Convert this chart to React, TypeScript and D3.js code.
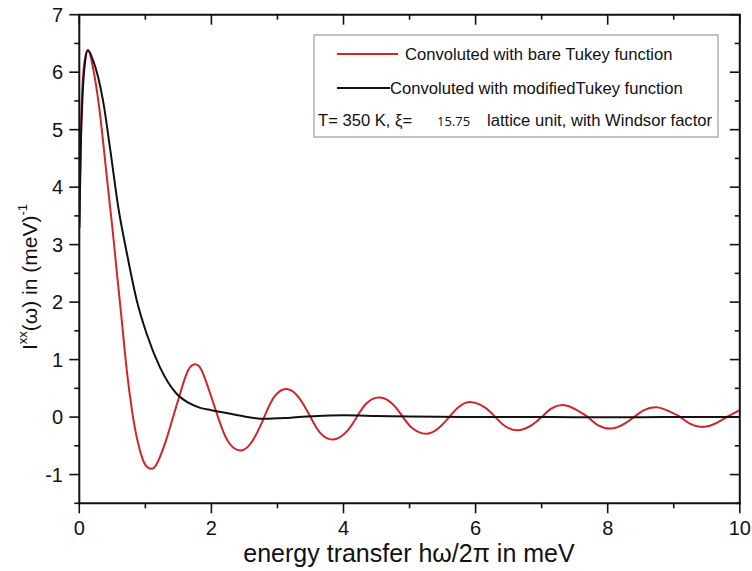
import React from "react";
import * as d3 from "d3";

// Energy transfer (meV) and intensity samples for the two convolutions
const bareX = [0, 0.03, 0.07, 0.13, 0.2, 0.3, 0.41, 0.5, 0.57, 0.65, 0.72, 0.8, 0.87, 0.95, 1.02, 1.09, 1.17, 1.3, 1.42, 1.55, 1.65, 1.75, 1.85, 1.97, 2.1, 2.25, 2.45, 2.63, 2.8, 2.95, 3.14, 3.33, 3.5, 3.65, 3.85, 4.05, 4.2, 4.35, 4.55, 4.75, 4.9, 5.05, 5.26, 5.45, 5.6, 5.75, 5.94, 6.15, 6.3, 6.45, 6.65, 6.85, 7.0, 7.15, 7.33, 7.52, 7.7, 7.85, 8.06, 8.25, 8.4, 8.55, 8.74, 8.93, 9.1, 9.25, 9.45, 9.65, 9.8, 10];
const bareY = [3.3, 5.2, 6.1, 6.38, 6.12, 5.4, 4.25, 3.3, 2.5, 1.6, 0.8, 0.1, -0.35, -0.7, -0.86, -0.9, -0.82, -0.45, 0.0, 0.5, 0.82, 0.92, 0.82, 0.45, 0.0, -0.42, -0.58, -0.4, 0.0, 0.35, 0.49, 0.33, 0.0, -0.28, -0.39, -0.25, 0.0, 0.24, 0.34, 0.22, 0.0, -0.2, -0.29, -0.18, 0.0, 0.18, 0.26, 0.16, 0.0, -0.16, -0.23, -0.14, 0.0, 0.15, 0.21, 0.13, 0.0, -0.14, -0.2, -0.12, 0.0, 0.12, 0.17, 0.1, 0.0, -0.12, -0.17, -0.1, 0.0, 0.12];

const modX = [0, 0.02, 0.05, 0.09, 0.13, 0.21, 0.36, 0.47, 0.59, 0.72, 0.87, 1.02, 1.22, 1.47, 1.65, 1.83, 2.0, 2.23, 2.5, 2.8, 3.2, 3.6, 4.0, 4.5, 5.0, 6.0, 7.0, 8.0, 9.0, 10.0];
const modY = [3.3, 4.6, 5.6, 6.2, 6.38, 6.2, 5.5, 4.64, 3.65, 2.85, 2.03, 1.45, 0.87, 0.41, 0.25, 0.16, 0.12, 0.07, 0.01, -0.03, -0.01, 0.02, 0.03, 0.02, 0.01, 0.0, 0.0, -0.005, 0.0, 0.0];

const xMajor = [0, 2, 4, 6, 8, 10];
const xMinor = [1, 3, 5, 7, 9];
const yMajor = [-1, 0, 1, 2, 3, 4, 5, 6, 7];
const yMinor = [-1.5, -0.5, 0.5, 1.5, 2.5, 3.5, 4.5, 5.5, 6.5];

const legendBare = "Convoluted with bare Tukey function";
const legendMod = "Convoluted with modifiedTukey function";

const RED = "#d0262b";
const FONT = "'Liberation Sans', Arial, sans-serif";

export default function App() {
  const W = 752;
  const H = 571;
  const left = 79.3;
  const right = 739.8;
  const top = 14.7;
  const bottom = 503.3;

  const x = d3.scaleLinear().domain([0, 10]).range([left, right]);
  const y = d3.scaleLinear().domain([-1.5, 7]).range([bottom, top]);

  const lineSmooth = d3
    .line<[number, number]>()
    .x((d) => x(d[0]))
    .y((d) => y(d[1]))
    .curve(d3.curveNatural);

  const lineMono = d3
    .line<[number, number]>()
    .x((d) => x(d[0]))
    .y((d) => y(d[1]))
    .curve(d3.curveMonotoneX);

  const bare = lineSmooth(bareX.map((v, i) => [v, bareY[i]] as [number, number])) || "";
  const mod = lineMono(modX.map((v, i) => [v, modY[i]] as [number, number])) || "";

  const ax = { stroke: "#111", strokeWidth: 2 };
  const tk = { stroke: "#111", strokeWidth: 1.6 };

  return (
    <svg
      width={W}
      height={H}
      style={{ position: "absolute", left: 0, top: 0, background: "#fff" }}
      fontFamily={FONT}
    >
      <rect x={0} y={0} width={W} height={H} fill="#fff" />
      <defs>
        <clipPath id="plot">
          <rect x={left} y={top} width={right - left} height={bottom - top} />
        </clipPath>
      </defs>

      {/* curves */}
      <g clipPath="url(#plot)" fill="none" strokeLinejoin="round" strokeLinecap="round">
        <path d={bare} stroke={RED} strokeWidth={2} />
        <path d={mod} stroke="#111" strokeWidth={2} />
      </g>

      {/* frame */}
      <line x1={left} x2={left} y1={top} y2={bottom + 1} {...ax} />
      <line x1={right} x2={right} y1={top} y2={bottom + 1} {...ax} />
      <line x1={left - 1} x2={right + 1} y1={bottom} y2={bottom} {...ax} />
      <line x1={left - 1} x2={right + 1} y1={top} y2={top} {...ax} />

      {/* x ticks */}
      {xMajor.map((v) => (
        <g key={"xM" + v}>
          <line x1={x(v)} x2={x(v)} y1={bottom} y2={bottom + 10} {...tk} />
          <line x1={x(v)} x2={x(v)} y1={top} y2={top + 10} {...tk} />
          <text x={x(v)} y={535} fontSize={20} textAnchor="middle" fill="#111">
            {v}
          </text>
        </g>
      ))}
      {xMinor.map((v) => (
        <g key={"xm" + v}>
          <line x1={x(v)} x2={x(v)} y1={bottom} y2={bottom + 5} {...tk} />
          <line x1={x(v)} x2={x(v)} y1={top} y2={top + 5} {...tk} />
        </g>
      ))}

      {/* y ticks */}
      {yMajor.map((v) => (
        <g key={"yM" + v}>
          <line x1={left - 10} x2={left} y1={y(v)} y2={y(v)} {...tk} />
          <line x1={right - 10} x2={right} y1={y(v)} y2={y(v)} {...tk} />
          <text x={63} y={y(v) + 7} fontSize={20} textAnchor="end" fill="#111">
            {v}
          </text>
        </g>
      ))}
      {yMinor.map((v) => (
        <g key={"ym" + v}>
          <line x1={left - 5} x2={left} y1={y(v)} y2={y(v)} {...tk} />
          <line x1={right - 5} x2={right} y1={y(v)} y2={y(v)} {...tk} />
        </g>
      ))}

      {/* axis titles */}
      <text x={409} y={562} fontSize={25} textAnchor="middle" fill="#111">
        energy transfer hω/2π in meV
      </text>
      <text
        transform="translate(37,277) rotate(-90)"
        fontSize={21}
        textAnchor="middle"
        fill="#111"
      >
        I
        <tspan fontSize={13} dy={-10}>xx</tspan>
        <tspan dy={10}>(ω) in (meV)</tspan>
        <tspan fontSize={13} dy={-10}>-1</tspan>
      </text>

      {/* legend */}
      <rect x={314} y={35} width={404} height={102} fill="#fff" stroke="#8a8a8a" strokeWidth={1} />
      <line x1={337} x2={398} y1={54} y2={54} stroke={RED} strokeWidth={2} />
      <text x={405} y={60} fontSize={16.6} fill="#111">
        {legendBare}
      </text>
      <line x1={337} x2={390} y1={88} y2={88} stroke="#111" strokeWidth={2} />
      <text x={390} y={94} fontSize={16.6} fill="#111">
        {legendMod}
      </text>
      <text x={318} y={126} fontSize={16.6} fill="#111">
        T= 350 K, ξ=
      </text>
      <text x={437} y={126} fontSize={13} fill="#111" fontFamily="'Open Sans', sans-serif">
        15.75
      </text>
      <text x={487} y={126} fontSize={16.6} fill="#111">
        lattice unit, with Windsor factor
      </text>
    </svg>
  );
}
